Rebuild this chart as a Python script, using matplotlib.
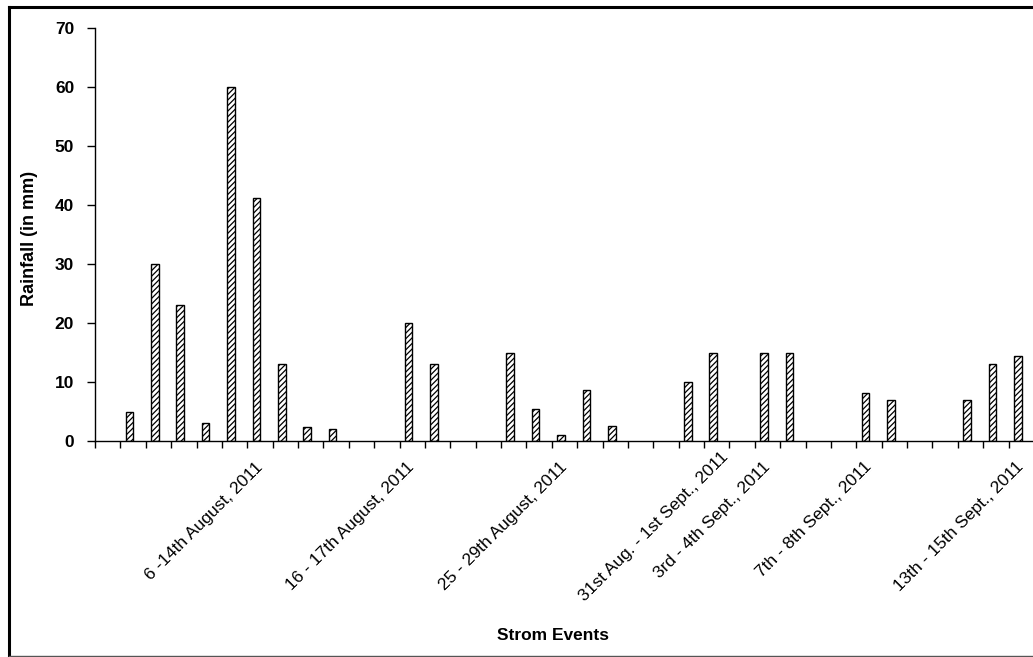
import numpy as np
import matplotlib
matplotlib.use("Agg")
import matplotlib.pyplot as plt
from matplotlib.lines import Line2D
import matplotlib.transforms as mtrans

plt.rcParams['font.family'] = ['Liberation Sans', 'DejaVu Sans']
plt.rcParams['hatch.linewidth'] = 0.9

# ---- data ----
labels = ['', '', '', '', '', '', '6 -14th August, 2011', '', '', '', '', '',
          '16 - 17th August, 2011', '', '', '', '', '', '25 - 29th August, 2011',
          '', '', '', '', '', '31st Aug. - 1st Sept., 2011', '', '3rd - 4th Sept., 2011',
          '', '', '', '7th - 8th Sept., 2011', '', '', '', '', '', '13th - 15th Sept., 2011']
rainfall = [None, 5, 30, 23, 3.1, 60, 41.2, 13, 2.3, 2.1, None, None,
            20, 13, None, None, 15, 5.5, 1.1, 8.6, 2.6, None, None,
            10, 15, None, 15, 15, None, None, 8.1, 6.9, None, None, 6.9, 13, 14.4]
yticks = [0, 10, 20, 30, 40, 50, 60, 70]

W, H = 1033, 657
fig = plt.figure(figsize=(W / 100, H / 100), dpi=100)
ax = fig.add_axes([95 / W, (H - 441) / H, (1034 - 95) / W, (441 - 28.3) / H])

n = len(labels)
idx = np.arange(n)
vals = np.array([np.nan if v is None else v for v in rainfall], dtype=float)
mask = ~np.isnan(vals)
ax.bar(idx[mask] - 0.14, vals[mask], width=0.3, color='white', edgecolor='black',
       linewidth=1.0, hatch='//////')

ax.set_xlim(-0.5, n - 0.5)
ax.set_ylim(0, 70)
ax.set_yticks(yticks)
ax.set_yticklabels([str(t) for t in yticks], fontweight='bold', fontsize=12.5)
ax.tick_params(axis='y', direction='out', length=6, width=1, pad=9)

# category boundaries as minor ticks, labels at centres
ax.set_xticks(np.arange(n + 1) - 0.5, minor=True)
ax.tick_params(axis='x', which='minor', direction='out', length=5, width=1)
ax.set_xticks(idx)
ax.set_xticklabels(labels, rotation=45, ha='right', va='center',
                   rotation_mode='anchor', fontsize=12.5)
ax.tick_params(axis='x', which='major', length=0, pad=17)

for lab in ax.get_xticklabels():
    if lab.get_text().startswith('31st'):
        lab.set_transform(lab.get_transform() + mtrans.ScaledTranslation(9 / 100, 10 / 100, fig.dpi_scale_trans))

for s in ['top', 'right']:
    ax.spines[s].set_visible(False)
ax.spines['left'].set_linewidth(1)
ax.spines['bottom'].set_linewidth(1)

ax.set_ylabel('Rainfall (in mm)', fontweight='bold', fontsize=13)
ax.yaxis.set_label_coords(30 / W, 1 - 238 / H, transform=fig.transFigure)
ax.yaxis.label.set_va('center')
fig.text(553 / W, 1 - 635 / H, 'Strom Events', fontweight='bold', fontsize=12.5,
         ha='center', va='center')

# outer frame
fig.add_artist(Line2D([8.5 / W, 8.5 / W], [0, 1 - 6.5 / H], transform=fig.transFigure,
                      color='black', linewidth=2.2))
fig.add_artist(Line2D([8.5 / W, 1.0], [1 - 6.5 / H, 1 - 6.5 / H], transform=fig.transFigure,
                      color='black', linewidth=2.2))
fig.add_artist(Line2D([8.5 / W, 1.0], [1 - 656 / H, 1 - 656 / H], transform=fig.transFigure,
                      color='#555555', linewidth=1.0))

fig.savefig('out.png', dpi=100)
